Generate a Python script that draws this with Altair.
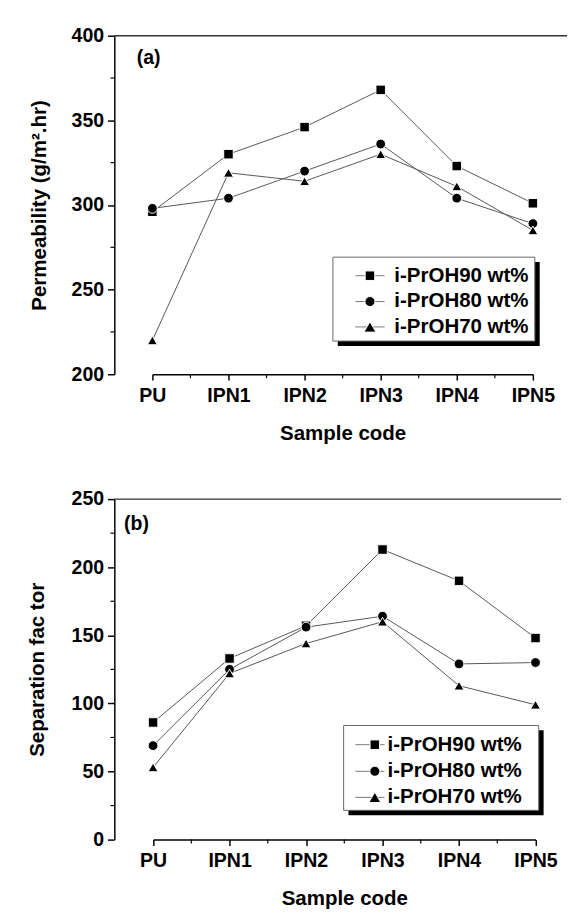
import altair as alt
import pandas as pd

samples = ["PU", "IPN1", "IPN2", "IPN3", "IPN4", "IPN5"]
series_names = ["i-PrOH90 wt%", "i-PrOH80 wt%", "i-PrOH70 wt%"]
series_shapes = ["square", "circle", "triangle-up"]
series_sizes = [95, 105, 150]

perm_90 = [296, 330, 346, 368, 323, 301]
perm_80 = [298, 304, 320, 336, 304, 289]
perm_70 = [220, 319, 314, 330, 311, 285]

sep_90 = [86, 133, 157, 213, 190, 148]
sep_80 = [69, 125, 156, 164, 129, 130]
sep_70 = [53, 122, 144, 160, 113, 99]

perm_ticks = [200, 250, 300, 350, 400]
perm_minor = [225, 275, 325, 375]
sep_ticks = [0, 50, 100, 150, 200, 250]
sep_minor = [25, 75, 125, 175, 225]

FONT = "Liberation Sans"


def long_df(cols):
    rows = []
    for name, vals in zip(series_names, cols):
        for s, v in zip(samples, vals):
            rows.append({"sample": s, "series": name, "value": v})
    return pd.DataFrame(rows)


one_row = pd.DataFrame({"k": [0]})


def panel(df, ytitle, ydomain, yticks, yminor, width, height, xrange,
          ytitle_pad, tag, tag_xy, leg, extent_x):
    xs = alt.Scale(type="point", domain=samples, range=xrange, padding=0)
    ys = alt.Scale(domain=ydomain, nice=False, zero=False)
    half = (xrange[1] - xrange[0]) / 10.0

    x_axis = alt.Axis(title="Sample code", labelAngle=0, tickSize=6,
                      labelPadding=6, titlePadding=18)
    y_axis = alt.Axis(title=ytitle, values=yticks, tickSize=7,
                      labelPadding=4, titlePadding=ytitle_pad)

    layers = []
    layers.append(alt.Chart(df).mark_line(color="#555", strokeWidth=1).encode(
        x=alt.X("sample:N", scale=xs, axis=x_axis),
        y=alt.Y("value:Q", scale=ys, axis=y_axis),
        detail="series:N"))
    layers.append(alt.Chart(one_row).mark_rule(color="#333", strokeWidth=1.5).encode(
        x=alt.value(0), x2=alt.value(width), y=alt.value(0)))
    layers.append(alt.Chart(one_row).mark_rule(strokeOpacity=0, color="white").encode(
        x=alt.value(-extent_x), x2=alt.value(-extent_x + 2), y=alt.value(height / 2)))
    layers.append(alt.Chart(pd.DataFrame({"sample": samples[:-1]})).mark_rule(
        color="black", strokeWidth=1.2, xOffset=half).encode(
        x=alt.X("sample:N", scale=xs, axis=x_axis),
        y=alt.value(height), y2=alt.value(height + 4)))
    layers.append(alt.Chart(pd.DataFrame({"value": yminor})).mark_rule(
        color="black", strokeWidth=1.2).encode(
        y=alt.Y("value:Q", scale=ys, axis=y_axis),
        x=alt.value(0), x2=alt.value(-4)))
    layers.append(alt.Chart(df).mark_point(filled=True, fill="black", stroke="white",
                                           strokeWidth=1, opacity=1).encode(
        x=alt.X("sample:N", scale=xs, axis=x_axis),
        y=alt.Y("value:Q", scale=ys, axis=y_axis),
        shape=alt.Shape("series:N", scale=alt.Scale(domain=series_names, range=series_shapes), legend=None),
        size=alt.Size("series:O", scale=alt.Scale(domain=series_names, range=series_sizes), legend=None)))

    bx0, by0, bx1, by1 = leg["box"]
    sh = leg["shadow"]
    layers.append(alt.Chart(one_row).mark_rect(fill="black").encode(
        x=alt.value(bx0 + sh), x2=alt.value(bx1 + sh), y=alt.value(by0 + sh), y2=alt.value(by1 + sh)))
    layers.append(alt.Chart(one_row).mark_rect(fill="white", stroke="#666", strokeWidth=1).encode(
        x=alt.value(bx0), x2=alt.value(bx1), y=alt.value(by0), y2=alt.value(by1)))
    lx0, lx1 = leg["line"]
    for name, shp, sz, ry in zip(series_names, series_shapes, series_sizes, leg["rows"]):
        layers.append(alt.Chart(one_row).mark_rule(color="#777", strokeWidth=1).encode(
            x=alt.value(lx0), x2=alt.value(lx1), y=alt.value(ry)))
        layers.append(alt.Chart(one_row).mark_point(filled=True, fill="black", stroke="white",
                                                    strokeWidth=1, opacity=1).encode(
            x=alt.value(leg["mx"]), y=alt.value(ry), shape=alt.value(shp), size=alt.value(sz)))
        layers.append(alt.Chart(one_row).mark_text(
            align="left", baseline="middle", font=FONT, fontSize=leg["fs"],
            fontWeight="bold", color="black").encode(
            x=alt.value(leg["tx"]), y=alt.value(ry), text=alt.value(name)))

    layers.append(alt.Chart(one_row).mark_text(
        align="left", baseline="middle", font=FONT, fontSize=20,
        fontWeight="bold", color="black").encode(
        x=alt.value(tag_xy[0]), y=alt.value(tag_xy[1]), text=alt.value(tag)))

    return alt.layer(*layers).properties(width=width, height=height)


pa = panel(long_df([perm_90, perm_80, perm_70]), "Permeability (g/m².hr)",
           [200, 400], perm_ticks, perm_minor, 464, 347, [39, 429], 22,
           "(a)", (23, 23),
           {"box": (224, 227, 431, 313), "shadow": 5, "rows": [246, 272.5, 298.5],
            "line": (247, 277), "mx": 262, "tx": 287, "fs": 21},
           89)

pb = panel(long_df([sep_90, sep_80, sep_70]), "Separation fac tor",
           [0, 250], sep_ticks, sep_minor, 458, 349, [39.7, 431.7], 24,
           "(b)", (10, 26),
           {"box": (235, 232, 435, 319), "shadow": 5, "rows": [251.7, 279, 305.7],
            "line": (247, 277), "mx": 267, "tx": 280, "fs": 21},
           95)

chart = alt.vconcat(pa, pb, spacing=47).properties(
    padding={"left": 14, "top": 7, "right": 0, "bottom": 0},
    background="white",
).configure_view(stroke=None).configure_axis(
    labelFont=FONT, titleFont=FONT, labelFontSize=20, titleFontSize=21,
    labelFontWeight="bold", titleFontWeight="bold", labelColor="black",
    titleColor="black", domainColor="black", tickColor="black",
    domainWidth=1.5, tickWidth=1.5, grid=False,
)

chart.save("out.html", embed_options={"renderer": "svg", "actions": False})
